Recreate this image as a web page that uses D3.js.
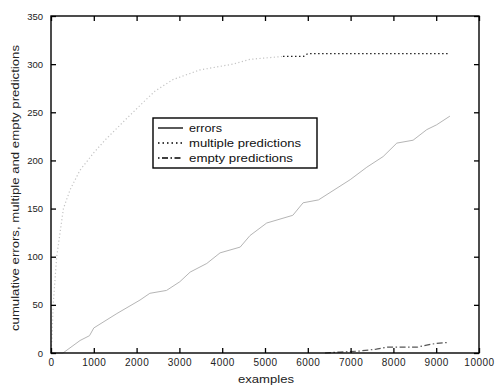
<!DOCTYPE html>
<html>
<head>
<meta charset="utf-8">
<script src="https://cdn.jsdelivr.net/npm/d3@7"></script>
<style>
  body { margin: 0; background: #fff; }
  svg { display: block; font-family: "Liberation Sans", Arial, sans-serif; }
  .tick text { fill: #222; }
</style>
</head>
<body>
<svg width="499" height="385"></svg>
<script>
// values: [examples, cumulative count]
const errors = [
  [0, 0], [280, 0], [680, 13], [900, 18], [1000, 26], [1540, 41], [2080, 55], [2310, 62],
  [2700, 65], [3010, 74], [3250, 84], [3640, 93], [3950, 104], [4420, 110], [4650, 122],
  [5040, 135], [5650, 143], [5890, 156], [6250, 159], [6990, 180], [7380, 193],
  [7760, 204], [8080, 218], [8460, 221], [8780, 232], [9010, 237], [9320, 246]
];
const multiple = [
  [0, 0], [20, 13], [54, 52], [133, 100], [290, 150], [450, 170], [680, 190], [1000, 208],
  [1260, 221], [1800, 245], [2240, 264], [2430, 272], [2850, 284], [3480, 294],
  [4250, 300], [4650, 305], [5420, 308], [5900, 308], [6000, 311], [7000, 311],
  [8000, 311], [9300, 311]
];
const empty = [
  [6400, 0], [6750, 1], [7200, 2], [7600, 4], [7850, 6], [8200, 6], [8550, 6],
  [8750, 8], [9000, 10], [9300, 11]
];
const xTicks = [0, 1000, 2000, 3000, 4000, 5000, 6000, 7000, 8000, 9000, 10000];
const yTicks = [0, 50, 100, 150, 200, 250, 300, 350];
const legendLabels = ["errors", "multiple predictions", "empty predictions"];

const svg = d3.select("svg");
const m = { left: 51, right: 479, top: 16, bottom: 353 };

const x = d3.scaleLinear().domain([0, 10000]).range([m.left, m.right]);
const y = d3.scaleLinear().domain([0, 350]).range([m.bottom, m.top]);

const line = d3.line().x(d => x(d[0])).y(d => y(d[1]));

// series
svg.append("path").datum(errors)
  .attr("d", line).attr("fill", "none")
  .attr("stroke", "#b5b5b5").attr("stroke-width", 1);

const split = 5400;
svg.append("path").datum(multiple.filter(d => d[0] <= 5420))
  .attr("d", line).attr("fill", "none")
  .attr("stroke", "#c4c4c4").attr("stroke-width", 1.2)
  .attr("stroke-dasharray", "1.2,2.4");
svg.append("path").datum(multiple.filter(d => d[0] >= split))
  .attr("d", line).attr("fill", "none")
  .attr("stroke", "#222").attr("stroke-width", 1.3)
  .attr("stroke-dasharray", "1.5,2.5");

svg.append("path").datum(empty)
  .attr("d", line).attr("fill", "none")
  .attr("stroke", "#555").attr("stroke-width", 1.2)
  .attr("stroke-dasharray", "6,2.5,1.5,2.5");

// axes with inward ticks on all four sides
svg.append("g").attr("transform", `translate(0,${m.bottom})`)
  .call(d3.axisBottom(x).tickValues(xTicks).tickSize(-5).tickPadding(6).tickFormat(d3.format("d")))
  .call(g => g.select(".domain").remove())
  .call(g => g.selectAll("text").attr("font-size", 10).attr("letter-spacing", 0.5));
svg.append("g").attr("transform", `translate(0,${m.top})`)
  .call(d3.axisTop(x).tickValues(xTicks).tickSize(-5).tickFormat(""))
  .call(g => g.select(".domain").remove());
svg.append("g").attr("transform", `translate(${m.left},0)`)
  .call(d3.axisLeft(y).tickValues(yTicks).tickSize(-5).tickPadding(8))
  .call(g => g.select(".domain").remove())
  .call(g => g.selectAll("text").attr("font-size", 9.5));
svg.append("g").attr("transform", `translate(${m.right},0)`)
  .call(d3.axisRight(y).tickValues(yTicks).tickSize(-5).tickFormat(""))
  .call(g => g.select(".domain").remove());

svg.selectAll(".tick line").attr("stroke", "#000").attr("stroke-width", 1.3);

svg.append("rect")
  .attr("x", m.left).attr("y", m.top)
  .attr("width", m.right - m.left).attr("height", m.bottom - m.top)
  .attr("fill", "none").attr("stroke", "#000").attr("stroke-width", 1.4);

// axis titles
svg.append("text")
  .attr("x", 266).attr("y", 383)
  .attr("text-anchor", "middle").attr("font-size", 10).attr("fill", "#222")
  .attr("textLength", 56).attr("lengthAdjust", "spacingAndGlyphs")
  .text("examples");
svg.append("text")
  .attr("transform", "translate(19,188) rotate(-90)")
  .attr("text-anchor", "middle").attr("font-size", 10).attr("fill", "#222")
  .attr("textLength", 286).attr("lengthAdjust", "spacingAndGlyphs")
  .text("cumulative errors, multiple and empty predictions");

// legend
const lg = svg.append("g").attr("transform", "translate(153,118)");
lg.append("rect").attr("width", 164).attr("height", 50)
  .attr("fill", "#fff").attr("stroke", "#000").attr("stroke-width", 1.4);
const dashes = [null, "1.5,3", "1.5,2.5,6,2.5"];
const textWidths = [33, 112, 104];
legendLabels.forEach((label, i) => {
  const ly = 10 + i * 15;
  lg.append("line").attr("x1", 5).attr("x2", 30).attr("y1", ly).attr("y2", ly)
    .attr("stroke", "#000").attr("stroke-width", 1.3)
    .attr("stroke-dasharray", dashes[i]);
  lg.append("text").attr("x", 36).attr("y", ly + 3.5)
    .attr("font-size", 10).attr("fill", "#111")
    .attr("textLength", textWidths[i]).attr("lengthAdjust", "spacingAndGlyphs")
    .text(label);
});
</script>
</body>
</html>
